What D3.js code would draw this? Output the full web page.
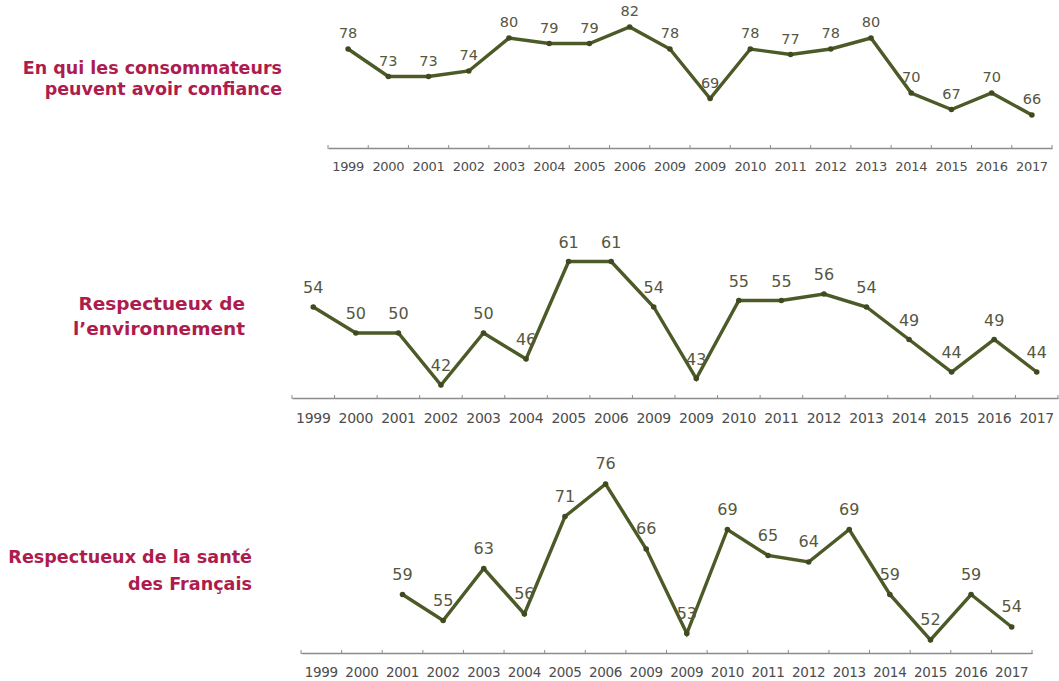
<!DOCTYPE html>
<html lang="fr">
<head>
<meta charset="utf-8">
<script src="https://cdn.jsdelivr.net/npm/d3@7"></script>
<style>
  html, body { margin: 0; padding: 0; background: #ffffff; }
  svg { display: block; }
</style>
</head>
<body>
<svg id="chart" width="1059" height="681"></svg>
<script>
// Years shown on every axis (the survey has two waves labelled 2009)
const years = ["1999", "2000", "2001", "2002", "2003", "2004", "2005", "2006", "2009", "2009b",
               "2010", "2011", "2012", "2013", "2014", "2015", "2016", "2017"];
const yearLabels = ["1999", "2000", "2001", "2002", "2003", "2004", "2005", "2006", "2009", "2009",
                    "2010", "2011", "2012", "2013", "2014", "2015", "2016", "2017"];

// Share of respondents (%) per statement
const confiance = [78, 73, 73, 74, 80, 79, 79, 82, 78, 69, 78, 77, 78, 80, 70, 67, 70, 66];
const environnement = [54, 50, 50, 42, 50, 46, 61, 61, 54, 43, 55, 55, 56, 54, 49, 44, 49, 44];
const sante = [null, null, 59, 55, 63, 56, 71, 76, 66, 53, 69, 65, 64, 69, 59, 52, 59, 54];

// Statement titles, one entry per line
const titleConfiance = ["En qui les consommateurs", "peuvent avoir confiance"];
const titleEnvironnement = ["Respectueux de", "l\u2019environnement"];
const titleSante = ["Respectueux de la santé", "des Français"];

const svg = d3.select("#chart");

const LINE = "#4b5a26";
const TITLE = "#ae1c4e";
const LABEL = "#56573f";

// Layout of the three stacked panels
const panels = [
  { values: confiance, title: titleConfiance,
    x0: 328, x1: 1052, axisY: 148, yMin: 60, yMax: 84, pxPer: 5.5,
    labelSize: 14.5, labelDy: -11, tickSize: 13, tickDy: 20,
    titleRight: 282, titleY: [74, 95], titleSize: 17.5 },
  { values: environnement, title: titleEnvironnement,
    x0: 292, x1: 1058, axisY: 398, yMin: 40, yMax: 62, pxPer: 6.5,
    labelSize: 16, labelDy: -14, tickSize: 14, tickDy: 21,
    titleRight: 245, titleY: [310, 335], titleSize: 18.5 },
  { values: sante, title: titleSante,
    x0: 301, x1: 1032, axisY: 653, yMin: 50, yMax: 78, pxPer: 6.5,
    labelSize: 16, labelDy: -15, tickSize: 13.5, tickDy: 20,
    titleRight: 252, titleY: [563, 590], titleSize: 17.6 }
];

panels.forEach(p => {
  const g = svg.append("g");

  const x = d3.scaleBand().domain(years).range([p.x0, p.x1]).paddingInner(0).paddingOuter(0);
  const y = d3.scaleLinear().domain([p.yMin, p.yMax])
    .range([p.axisY, p.axisY - (p.yMax - p.yMin) * p.pxPer]);
  const cx = d => x(d) + x.bandwidth() / 2;

  // Category axis: labels centred in each band, ticks between bands
  const axis = d3.axisBottom(x)
    .tickSize(0)
    .tickPadding(p.tickDy - 6)
    .tickFormat((d, i) => yearLabels[i]);
  const ag = g.append("g").attr("transform", `translate(0,${p.axisY})`).call(axis);
  ag.select(".domain").attr("stroke", "#8c8c8c").attr("stroke-width", 1.5);
  ag.selectAll(".tick text")
    .attr("fill", "#4d4d4d")
    .attr("font-family", "DejaVu Sans, Verdana, sans-serif")
    .attr("font-size", p.tickSize)
    .attr("letter-spacing", "-0.3px");

  const edges = years.map(d => x(d)).concat([p.x1]);
  g.append("g").selectAll("line").data(edges).join("line")
    .attr("x1", d => d).attr("x2", d => d)
    .attr("y1", p.axisY - 3).attr("y2", p.axisY + 1)
    .attr("stroke", "#8c8c8c").attr("stroke-width", 1);

  const pts = years.map((d, i) => ({ year: d, v: p.values[i] })).filter(d => d.v != null);

  const line = d3.line().x(d => cx(d.year)).y(d => y(d.v));
  g.append("path").datum(pts)
    .attr("d", line)
    .attr("fill", "none")
    .attr("stroke", LINE)
    .attr("stroke-width", 3.4)
    .attr("stroke-linejoin", "miter");

  g.append("g").selectAll("circle").data(pts).join("circle")
    .attr("cx", d => cx(d.year)).attr("cy", d => y(d.v))
    .attr("r", 2.8).attr("fill", "#3f4a20");

  g.append("g").selectAll("text").data(pts).join("text")
    .attr("x", d => cx(d.year))
    .attr("y", d => y(d.v) + p.labelDy)
    .attr("text-anchor", "middle")
    .attr("fill", LABEL)
    .attr("font-family", "DejaVu Sans, Verdana, sans-serif")
    .attr("font-size", p.labelSize)
    .text(d => d.v);

  // Statement title, right aligned to the left of the plot
  g.append("g").selectAll("text").data(p.title).join("text")
    .attr("x", p.titleRight)
    .attr("y", (d, i) => p.titleY[i])
    .attr("text-anchor", "end")
    .attr("fill", TITLE)
    .attr("font-family", "DejaVu Sans, Verdana, sans-serif")
    .attr("font-weight", "bold")
    .attr("font-size", p.titleSize)
    .text(d => d);
});
</script>
</body>
</html>
